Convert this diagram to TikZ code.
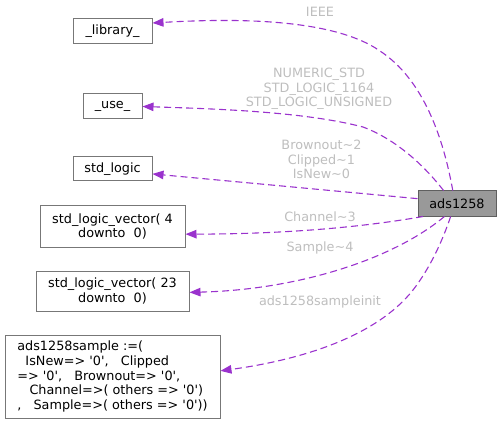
\documentclass[tikz,border=0pt]{standalone}
\usepackage{fontspec}
\newfontfamily\dv{DejaVu Sans}
\usetikzlibrary{arrows.meta}
\definecolor{edgecol}{HTML}{9A32CD}
\definecolor{labcol}{HTML}{BEBEBE}
\definecolor{boxline}{HTML}{777777}
\definecolor{mainfill}{HTML}{999999}
\tikzset{
  txt/.style={font=\dv\fontsize{12.8}{14.7}\selectfont},
  box/.style={txt, draw=boxline, line width=1pt, fill=white, align=center, inner sep=0pt},
  mainbox/.style={box, fill=mainfill, draw=boxline!80!black},
  edge/.style={draw=edgecol, line width=1.1pt, dash pattern=on 7pt off 4pt, -{Triangle[length=11pt,width=8.5pt]}},
  lab/.style={txt, text=labcol, align=center, inner sep=0pt}
}
\begin{document}
\begin{tikzpicture}[x=1pt,y=-1pt]
\useasboundingbox (0,0) rectangle (501,425);
\node[box, minimum width=79pt, minimum height=25pt] (lib) at (112.5,31.5) {\_library\_};
\node[box, minimum width=59pt, minimum height=25pt] (use) at (112.5,106.5) {\_use\_};
\node[box, minimum width=79pt, minimum height=24pt] (stdl) at (112.5,169) {std\_logic};
\node[box, minimum width=145pt, minimum height=41pt] (slva) at (112.5,226.5) {std\_logic\_vector( 4\\downto\ \ 0)};
\node[box, minimum width=153pt, minimum height=40pt] (slvb) at (112.5,291) {std\_logic\_vector( 23\\downto\ \ 0)};
\node[box, align=left, minimum width=215pt, minimum height=83pt] (samp) at (112.5,376.5) {ads1258sample :=(\\\ \ IsNew=> '0',\ \ \ Clipped\\=> '0',\ \ \ Brownout=> '0',\\\ \ \ Channel=>( others => '0')\\,\ \ \ Sample=>( others => '0'))};
\node[mainbox, minimum width=78pt, minimum height=25pt] (ads) at (457,203.5) {ads1258};

\draw[edge] (ads.108) .. controls (443.5,139) and (424,80) .. (380,51) .. controls (330,16) and (222,19) .. (lib.12);
\draw[edge] (ads.136) .. controls (423,164) and (395,139) .. (363,127) .. controls (305,112) and (222,109) .. (use.east);
\draw[edge] (ads.173) -- (stdl.-7);
\draw[edge] (ads.201) .. controls (346,230) and (265,234) .. (slva.-6);
\draw[edge] (ads.226) .. controls (391,261) and (294,290) .. (slvb.-1.5);
\draw[edge] (ads.244) .. controls (442,242) and (430,268) .. (413,290) .. controls (376,337) and (300,360) .. (samp.3);

\node[lab] (l1) at (320,12) {IEEE};
\node[lab] (l2) at (319,89) {NUMERIC\_STD\\STD\_LOGIC\_1164\\STD\_LOGIC\_UNSIGNED};
\node[lab] (l3) at (321.5,159.5) {Brownout\textasciitilde 2\\Clipped\textasciitilde 1\\IsNew\textasciitilde 0};
\node[lab] (l4) at (320,216.5) {Channel\textasciitilde 3};
\node[lab] (l5) at (320,247.5) {Sample\textasciitilde 4};
\node[lab] (l6) at (320,302) {ads1258sampleinit};
\end{tikzpicture}
\end{document}
